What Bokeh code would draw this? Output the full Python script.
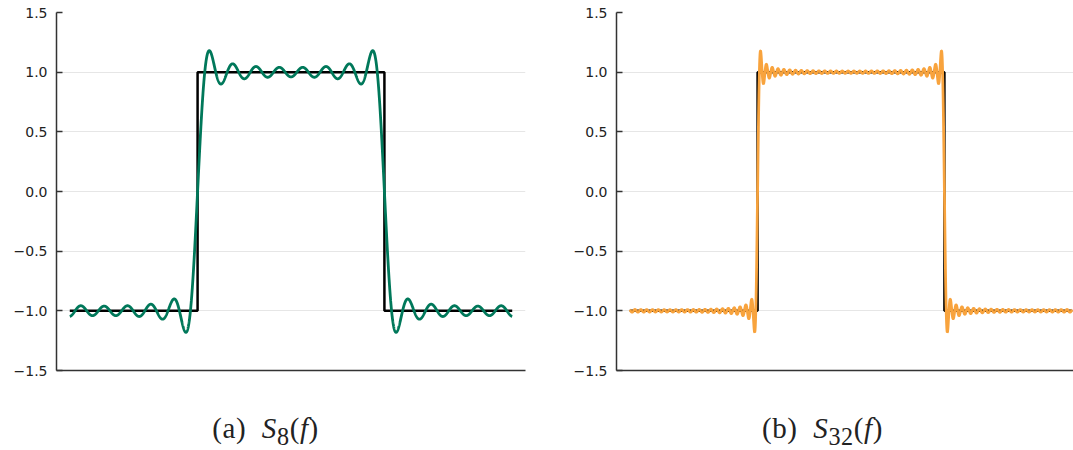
import numpy as np
from bokeh.plotting import figure
from bokeh.layouts import column, row
from bokeh.models import Div, Spacer, FixedTicker, Range1d
from bokeh.embed import file_html
from bokeh.resources import INLINE

# Square pulse on one period (radians), plotted slightly past one period
x_start, x_end = -3.72, 3.72
pulse_edges = [-np.pi / 2, np.pi / 2]
pulse_levels = [-1.0, 1.0, -1.0]

# Number of odd harmonics in each partial Fourier sum
terms = [8, 32]
captions = ["(a)&nbsp;&nbsp;<i>S</i><sub>8</sub>(<i>f</i>)",
            "(b)&nbsp;&nbsp;<i>S</i><sub>32</sub>(<i>f</i>)"]
colors = ["#00785a", "#f8a33d"]

y_ticks = [-1.5, -1.0, -0.5, 0.0, 0.5, 1.0, 1.5]
y_tick_labels = ["\u22121.5", "\u22121.0", "\u22120.5", "0.0", "0.5", "1.0", "1.5"]

# square wave outline
sq_x = [x_start, pulse_edges[0], pulse_edges[0], pulse_edges[1], pulse_edges[1], x_end]
sq_y = [pulse_levels[0], pulse_levels[0], pulse_levels[1], pulse_levels[1],
        pulse_levels[2], pulse_levels[2]]

xs = np.linspace(x_start, x_end, 4000)


def partial_sum(n_terms):
    s = np.zeros_like(xs)
    for j in range(1, n_terms + 1):
        k = 2 * j - 1
        s += (-1) ** (j - 1) * np.cos(k * xs) / k
    return 4.0 / np.pi * s


pad = 0.03 * (x_end - x_start)
lo, hi = x_start - pad, x_end + pad


def make_panel(n_terms, color, width, border_left, border_right, x_hi):
    p = figure(width=width, height=390, output_backend="svg", toolbar_location=None,
               x_range=Range1d(lo, x_hi), y_range=Range1d(-1.5, 1.5),
               min_border_left=border_left, min_border_right=border_right,
               min_border_top=12, min_border_bottom=20)
    p.outline_line_color = None
    p.background_fill_color = "white"
    p.border_fill_color = "white"

    p.xaxis.ticker = FixedTicker(ticks=[])
    p.xaxis.axis_line_width = 1.5
    p.xaxis.axis_line_color = "#333333"
    p.xaxis.major_tick_line_color = None
    p.xaxis.minor_tick_line_color = None
    p.xaxis.major_label_text_font_size = "0px"
    p.xgrid.visible = False

    p.yaxis.ticker = FixedTicker(ticks=y_ticks)
    p.yaxis.major_label_overrides = dict(zip(y_ticks, y_tick_labels))
    p.yaxis.axis_line_width = 1.5
    p.yaxis.axis_line_color = "#333333"
    p.yaxis.major_tick_line_color = "#333333"
    p.yaxis.major_tick_line_width = 1.5
    p.yaxis.major_tick_in = 6
    p.yaxis.major_tick_out = 0
    p.yaxis.minor_tick_line_color = None
    p.yaxis.major_label_standoff = 9
    p.yaxis.major_label_text_font = "DejaVu Sans"
    p.yaxis.major_label_text_font_size = "14px"
    p.yaxis.major_label_text_color = "#222222"
    p.ygrid.ticker = FixedTicker(ticks=y_ticks)
    p.ygrid.grid_line_color = "#e6e6e6"
    p.ygrid.grid_line_width = 1

    p.line(sq_x, sq_y, line_color="black", line_width=2.5)
    p.line(xs, partial_sum(n_terms), line_color=color, line_width=2.8)
    return p


pa = make_panel(terms[0], colors[0], 560, 56, 35, hi)
# right panel runs to the page edge, so its range stops a little short
hi_b = lo + (hi - lo) * 457.0 / 469.0
pb = make_panel(terms[1], colors[1], 513, 56, 0, hi_b)


def caption(html, width):
    style = ("display:block;width:%dpx;font-family:'Liberation Serif',serif;"
             "font-size:29px;line-height:30px;color:#222;text-align:center;"
             "padding-top:23px;letter-spacing:0.6px;" % width)
    return Div(text=f'<div style="{style}">{html}</div>', width=width, height=60,
               margin=0, styles={"text-align": "center"})


layout = column(row(pa, pb), row(caption(captions[0], 531), Spacer(width=41, height=60),
                                 caption(captions[1], 501)))

open("out.html", "w").write(file_html(layout, INLINE))
